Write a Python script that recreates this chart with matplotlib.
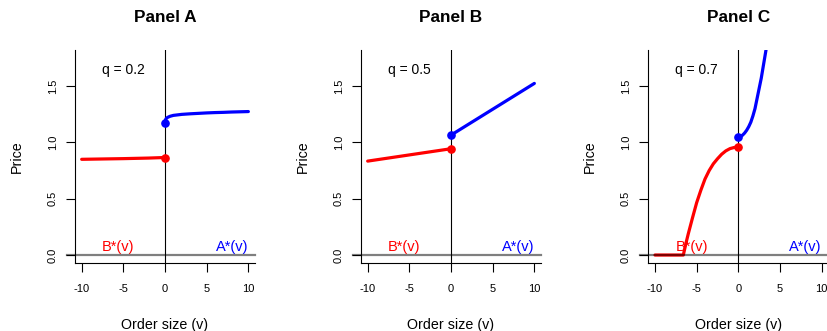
import matplotlib
matplotlib.use('Agg')
import matplotlib.pyplot as plt

plt.rcParams['font.family'] = ['Liberation Sans', 'DejaVu Sans']

# panel titles and q values
titles = ['Panel A', 'Panel B', 'Panel C']
q_values = [0.2, 0.5, 0.7]

# bid side B*(v)
bid_v_A = [-10, -5, -2, 0]
bid_p_A = [0.850, 0.856, 0.861, 0.866]
bid_v_B = [-10, 0]
bid_p_B = [0.834, 0.944]
bid_v_C = [-10, -6.6, -6.25, -6.0, -5.5, -5.0, -4.5, -4.0, -3.5, -3.0, -2.5, -2.0, -1.5, -1.0, -0.5, 0]
bid_p_C = [0, 0, 0.115, 0.19, 0.33, 0.465, 0.575, 0.675, 0.75, 0.81, 0.855, 0.895, 0.925, 0.945, 0.955, 0.959]

# ask side A*(v)
ask_v_A = [0, 0.05, 0.15, 0.3, 0.6, 1, 2, 3, 4, 5, 6, 7, 8, 9, 10]
ask_p_A = [1.175, 1.200, 1.213, 1.222, 1.232, 1.240, 1.249, 1.254, 1.258, 1.262, 1.265, 1.267, 1.270, 1.272, 1.274]
ask_v_B = [0, 10]
ask_p_B = [1.065, 1.524]
ask_v_C = [0, 0.25, 0.5, 0.75, 1.0, 1.25, 1.5, 1.75, 2.0, 2.25, 2.5, 2.75, 3.0, 3.25, 3.5]
ask_p_C = [1.048, 1.052, 1.064, 1.083, 1.108, 1.140, 1.18, 1.235, 1.30, 1.39, 1.48, 1.57, 1.68, 1.79, 1.90]

bids = [(bid_v_A, bid_p_A), (bid_v_B, bid_p_B), (bid_v_C, bid_p_C)]
asks = [(ask_v_A, ask_p_A), (ask_v_B, ask_p_B), (ask_v_C, ask_p_C)]

x_ticks = [-10, -5, 0, 5, 10]
y_ticks = [0.0, 0.5, 1.0, 1.5]
y_ticklabels = ['0.0', '0.5', '1.0', '1.5']
xlim = (-10.8, 10.8)
ylim = (-0.07, 1.82)

fig = plt.figure(figsize=(8.28, 3.31), dpi=100)
lefts = [0.0906, 0.436, 0.783]

for i in range(3):
    ax = fig.add_axes([lefts[i], 0.2057, 0.2174, 0.643])
    ax.set_xlim(xlim)
    ax.set_ylim(ylim)

    ax.axvline(0, color='black', lw=0.8, zorder=1)

    bv, bp = bids[i]
    av, ap = asks[i]
    ax.plot(bv, bp, color='#ff0000', lw=2.3, solid_capstyle='round', zorder=2)
    ax.plot(av, ap, color='#0000ff', lw=2.3, solid_capstyle='round', zorder=2)
    ax.plot(bv[-1], bp[-1], 'o', color='#ff0000', ms=5.2, zorder=3)
    ax.plot(av[0], ap[0], 'o', color='#0000ff', ms=5.2, zorder=3)

    # zero line, drawn a bit past the left axis like the original
    ax.plot([xlim[0] - 1.0, xlim[1]], [0, 0], color='black', alpha=0.5, lw=1.6,
            clip_on=False, zorder=4)

    ax.text(-5, 1.605, 'q = %s' % q_values[i], ha='center', va='baseline', fontsize=10)
    ax.text(-5.6, 0.04, 'B*(v)', color='#ff0000', ha='center', va='baseline', fontsize=10.5)
    ax.text(10, 0.04, 'A*(v)', color='#0000ff', ha='right', va='baseline', fontsize=10.5)

    ax.set_title(titles[i], fontsize=12.4, fontweight='bold', pad=20)

    ax.spines['top'].set_visible(False)
    ax.spines['right'].set_visible(False)
    for s in ['left', 'bottom']:
        ax.spines[s].set_linewidth(0.8)

    ax.set_xticks(x_ticks)
    ax.set_xticklabels([str(t) for t in x_ticks])
    ax.set_yticks(y_ticks)
    ax.set_yticklabels(y_ticklabels, rotation=90, va='center')
    ax.tick_params(axis='both', length=6.5, width=0.8, labelsize=8)
    ax.tick_params(axis='x', pad=8.5)
    ax.tick_params(axis='y', pad=6)

    ax.set_xlabel('Order size (v)', fontsize=10.3)
    ax.xaxis.set_label_coords(0.5, -0.258)
    ax.set_ylabel('Price', fontsize=10.3)
    ax.yaxis.set_label_coords(-0.285, 0.5)

fig.savefig('out.png', dpi=100)
